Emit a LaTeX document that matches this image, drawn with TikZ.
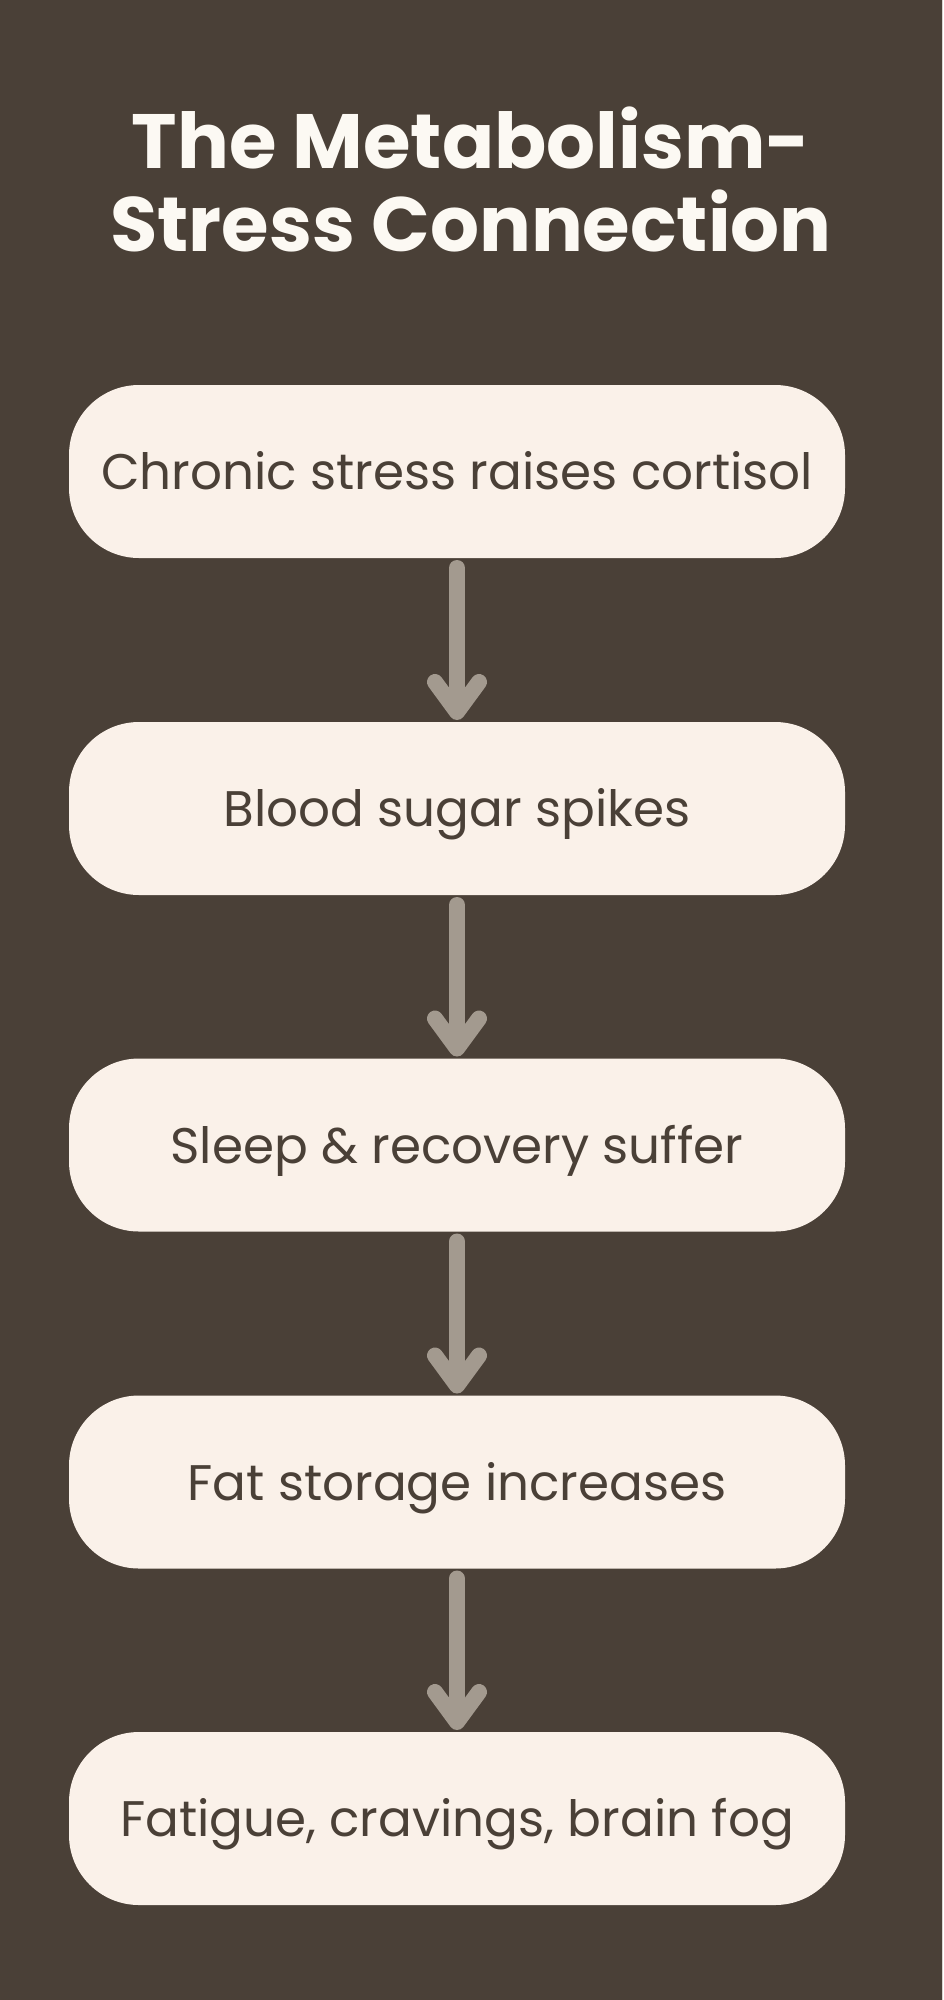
\documentclass[tikz,border=0pt]{standalone}
\usepackage{fontspec}
\setmainfont{Poppins}
\usetikzlibrary{arrows.meta}
\definecolor{bgc}{HTML}{4A4037}
\definecolor{boxc}{HTML}{FAF1E9}
\definecolor{txtc}{HTML}{4A4037}
\definecolor{arrc}{HTML}{A39A8F}
\definecolor{ttlc}{HTML}{FCF9F3}
\definecolor{stripc}{HTML}{D9D5D0}
\begin{document}
\begin{tikzpicture}[x=1pt,y=-1pt,
  titletext/.style={anchor=base, text=ttlc, inner sep=0pt, font=\bfseries\fontsize{77}{83}\selectfont},
  stepbox/.style={rectangle, rounded corners=70pt, fill=boxc, minimum width=776pt, minimum height=173pt,
    inner sep=0pt, outer sep=0pt, text=txtc, text height=36pt, text depth=0pt, font=\fontsize{50}{60}\selectfont},
  conn/.style={draw=arrc, line width=16pt, line cap=round,
    -{Straight Barb[round,length=30pt,width=44pt]}, shorten <=10pt, shorten >=2pt}
]
\fill[bgc] (0,0) rectangle (943,2000);
\fill[stripc] (941.5,0) rectangle (943,2000);
\useasboundingbox (0,0) rectangle (943,2000);

\node[titletext] (t1) at (471,168) {The Metabolism-};
\node[titletext] (t2) at (471,251) {Stress Connection};

\node[stepbox] (b1) at (457,471.5) {Chronic stress raises cortisol};
\node[stepbox] (b2) at (457,808.5) {Blood sugar spikes};
\node[stepbox] (b3) at (457,1145) {Sleep \& recovery suffer};
\node[stepbox] (b4) at (457,1482) {Fat storage increases};
\node[stepbox] (b5) at (457,1818.5) {Fatigue, cravings, brain fog};

\draw[conn] (b1.south) -- (b2.north);
\draw[conn] (b2.south) -- (b3.north);
\draw[conn] (b3.south) -- (b4.north);
\draw[conn] (b4.south) -- (b5.north);
\end{tikzpicture}
\end{document}
